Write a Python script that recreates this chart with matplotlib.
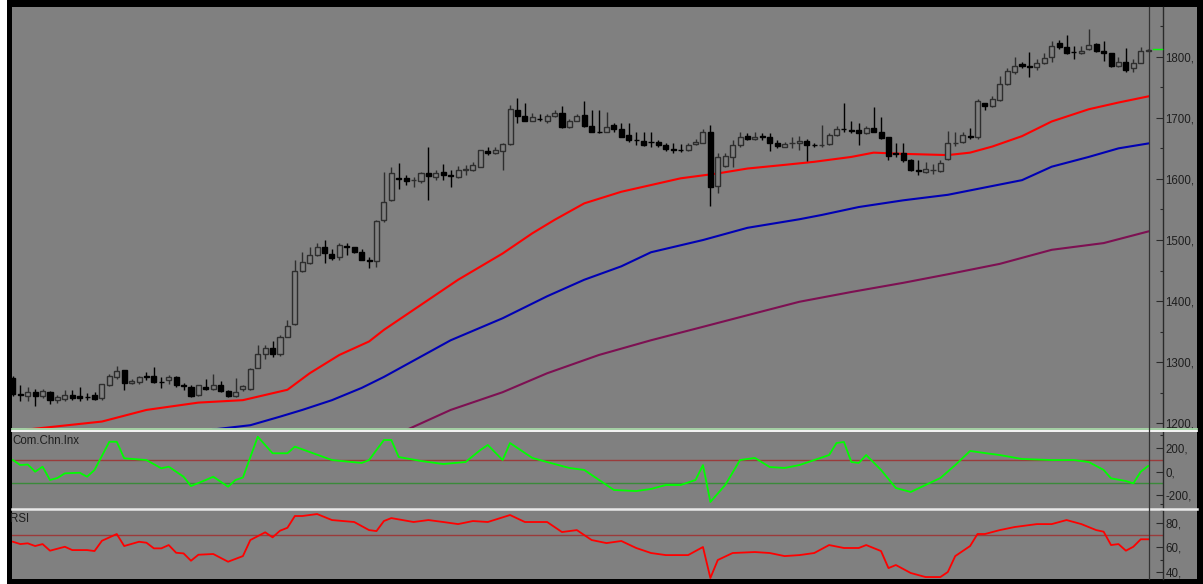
import numpy as np
import matplotlib
matplotlib.use("Agg")
import matplotlib.pyplot as plt
from matplotlib.patches import Rectangle

# ---------------- data ----------------
opens = [1274,1248,1244,1251,1245,1252,1238,1240,1247,1244,1243.5,1246,1241,1262,1276,1287,1266,1267,1277,1278,
         1268.5,1271,1276,1262,1260,1246,1260,1257,1262,1253,1245,1256,1256,1291,1313,1324,1313,1342,1363,1450,
         1462,1476,1488,1477,1473,1489.5,1488,1481,1467.5,1466,1532,1565,1601,1602,1598,1597,1610,1603,1611,1606,
         1603,1615,1615,1620,1646,1642,1646,1657,1713,1703,1695,1698.5,1695,1703,1708,1685.5,1695,1704.5,1686.5,1677.5,
         1677,1688,1681,1672,1664,1662.5,1661,1661,1655.5,1648.5,1647.5,1647,1657,1659,1676,1588,1621,1636.5,1655.5,1670,
         1666,1669.5,1669,1659,1653,1658,1658,1662.5,1656,1655.5,1657,1672,1681.5,1679.5,1680,1674.5,1683,1677,1668,1642,
         1642,1631,1614,1612,1614.5,1613.5,1632,1658,1661,1670,1668,1724,1719,1729,1755,1775.5,1788,1784,1782.5,1790,
         1799,1822,1815.5,1808,1805.5,1812,1821,1810,1805.5,1785,1792,1781,1790,1810]
highs = [1277,1262,1259,1257,1257,1253,1246,1254,1254,1260,1249,1251,1265,1280,1294,1288,1272,1278,1284,1293,
         1276,1279,1278,1266,1263,1263,1272,1281,1270,1255,1275,1263,1290,1328,1328,1334,1344,1369,1467,1481,
         1489,1495,1500,1486,1495,1495,1489,1486,1473,1533,1612,1619,1626,1606,1603,1612,1653,1615,1624,1615,
         1621,1623,1628,1648,1653,1653,1658,1721,1733,1724,1708,1706,1707,1713,1719,1697.5,1706,1728,1712,1712,
         1710,1691,1691,1691,1677,1676,1676,1664,1659,1659,1657,1658,1666,1681,1688,1643,1643,1663,1676,1675,
         1677,1675,1675,1664,1661,1669,1670,1665,1659,1688,1675,1687,1724,1694,1691,1687,1717,1702,1668,1658,
         1658,1632,1631,1628,1624,1631,1679,1676,1676,1683,1730,1725,1735,1768,1781,1800,1792,1808,1796,1806,
         1826,1827,1836,1817.5,1817.5,1845,1822,1825,1806.5,1800,1814,1796,1815.5,1812]
lows = [1244,1236,1236,1229,1242,1231,1233,1237,1238,1237,1238,1238,1239,1261,1272,1255,1264,1265,1271,1266,
        1258,1265,1260,1255,1243,1244,1255,1254,1251,1243,1243,1253,1255,1290,1306,1309,1310,1341,1361,1448,
        1461,1474,1462,1467,1467,1476,1478,1467,1455,1456,1530,1564,1583,1590,1586,1594,1565,1598,1598,1587,
        1602,1606,1613,1619,1639,1640,1615,1655,1691,1694,1694,1694,1691,1702,1684,1684,1694,1685.5,1677,1675,
        1676,1677,1668,1661,1655.5,1654,1653,1653,1646,1643,1644.5,1646,1655.5,1658,1555,1577.5,1619,1620,1652,1664,
        1664,1664,1645,1650,1652,1650,1647,1630,1652,1652,1655.5,1670,1677,1675,1655.5,1673.5,1676,1665,1631,1636,
        1628,1613.5,1606,1610,1608,1612,1631,1654,1658,1666,1666,1712,1717,1728,1754,1772,1781,1766,1779,1788,
        1792,1812,1804.5,1796,1804.5,1811,1808,1793.5,1783.5,1783.5,1775.5,1775.5,1789,1810]
closes = [1248,1246,1252,1245,1253,1238,1243,1247,1241,1241,1243,1240,1264,1278,1286,1266,1269,1276,1276,1267,
          1268,1276,1262,1261.5,1245,1262,1257,1262,1253,1245,1251,1261,1289,1313,1324,1313,1342,1360,1450,1464,
          1476,1489,1478,1470,1492,1489,1481,1467.5,1466,1531,1563,1610,1600,1597,1598.5,1609,1604,1610,1607,1604,
          1615,1615.5,1623,1647,1642,1647,1657,1714,1703,1695,1702,1698,1703,1708,1685.5,1695,1703,1686.5,1677.5,1677,
          1685.5,1681,1669,1664,1663.5,1655.5,1660.5,1655.5,1648.5,1648,1647,1655.5,1661,1676,1587,1636,1637.5,1655.5,1668,1666,
          1669,1669,1659,1654,1657,1658.5,1662.5,1655.5,1655.5,1656,1672,1681,1681,1679,1675.5,1683,1677,1666.5,1637.5,1641.5,
          1631,1614.5,1613.5,1615.5,1615,1626.5,1658,1658.5,1672,1668,1728,1719,1730,1755,1777,1784,1784,1783.5,1790,1797.5,
          1817.5,1815.5,1806.5,1807.5,1810,1819,1810,1805.5,1785,1792,1778.5,1790,1808.5,1811.5]

# moving averages: (bar index, price)
ma_red_idx = [2, 12, 18, 25, 31, 37, 40, 44, 48, 50, 60, 66, 70, 73, 77, 82, 86, 90, 95, 99, 104, 108, 113, 116, 120, 126, 129, 132, 136, 140, 145, 149, 153]
ma_red_val = [1190, 1203, 1222, 1234, 1238, 1255, 1282, 1312, 1334, 1353, 1435, 1478, 1511, 1533, 1560, 1579, 1590, 1601, 1609, 1617, 1623, 1628, 1636, 1643, 1641, 1639, 1643, 1653, 1670, 1694, 1714, 1725, 1735]
ma_blue_idx = [27, 32, 36, 39, 43, 47, 50, 59, 66, 72, 77, 82, 86, 93, 99, 106, 109, 114, 120, 126, 136, 140, 145, 149, 153]
ma_blue_val = [1190, 1197, 1211, 1222, 1238, 1258, 1276, 1336, 1372, 1408, 1435, 1457, 1480, 1500, 1520, 1534, 1541, 1554, 1565, 1574, 1598, 1620, 1636, 1650, 1658]
ma_purple_idx = [53, 59, 66, 72, 79, 86, 93, 99, 106, 113, 120, 126, 133, 140, 147, 153]
ma_purple_val = [1189, 1222, 1251, 1282, 1312, 1336, 1358, 1377, 1399, 1415, 1430, 1444, 1461, 1484, 1495, 1514]

# Commodity Channel Index
cci_idx = [0,1,2,3,4,5,6,7,9,10,11,13,14,15,18,20,21,23,24,26,27,29,30,31,33,35,37,38,40,43,47,48,50,51,52,55,58,61,63,64,
           66,67,70,72,75,77,79,81,84,86,88,90,92,93,94,96,98,100,102,104,106,108,110,111,112,113,114,115,117,119,
           121,123,125,127,129,131,133,136,140,143,145,147,148,150,151,152,153]
cci_val = [100,57,62,0,43,-71,-54,-14,-9,-43,15,257,257,115,100,29,43,-43,-123,-71,-43,-129,-71,-50,300,158,158,215,169,100,75,100,272,272,126,92,66,83,186,229,
           100,246,118,83,32,15,-71,-157,-166,-148,-114,-114,-71,57,-260,-114,100,118,40,32,57,100,143,246,255,83,75,143,15,-140,
           -174,-114,-54,57,178,160,143,109,100,100,83,15,-57,-80,-100,0,49]

# Relative Strength Index
rsi_idx = [0,1,2,3,4,5,7,8,10,11,12,14,15,17,18,19,20,21,22,23,24,25,27,29,31,32,34,35,36,37,38,39,40,41,43,46,48,49,50,51,
           54,56,58,60,62,64,67,69,72,74,76,78,80,82,84,86,88,91,93,94,95,97,100,102,104,106,108,110,112,114,
           115,117,118,119,121,123,125,126,127,129,130,131,133,135,138,140,142,144,146,147,148,149,150,151,152,153]
rsi_val = [64.5,62.6,63.2,61,62.6,57.2,60.4,57.7,57.7,56.9,65.3,70.8,61,64.5,63.7,59.1,59.1,61.8,55.5,55,49,53.9,54.5,48.2,52.8,65.9,72.2,68.1,73.5,75.9,85.5,85.5,86.3,87.1,82.2,80.6,74,73.2,81.4,83.8,
           80.6,82.2,80.6,78.9,81.4,80.6,86.3,80.6,80.6,72.4,74,65.9,63.4,65.1,59.4,55.3,53.6,53.6,60.2,34.9,49.6,55.3,56.1,55.3,52.8,53.6,55.3,61.8,59.4,59.4,
           61.8,56.9,43,45.5,39,35.7,35.7,39.8,52.8,61,70.8,70.8,74,76.5,78.9,78.9,82.2,78.9,74,72.7,61.8,62.6,57.2,60.4,66.5,66.5]

price_ticks = [1200, 1300, 1400, 1500, 1600, 1700, 1800]
cci_ticks = [-200, 0, 200]
rsi_ticks = [40, 60, 80]
cci_levels = [100, -100]
rsi_level = 70

# ---------------- layout ----------------
W, H = 1203, 584
BG = "#808080"
fig = plt.figure(figsize=(W / 100, H / 100), dpi=100)
fig.patch.set_facecolor("white")

def fx(px):
    return px / W

def fy(py):
    return 1 - py / H

# black frame and grey interior
fig.patches.append(Rectangle((fx(7), 0), 1 - fx(7), fy(0) - 0, transform=fig.transFigure,
                             facecolor="black", edgecolor="none", zorder=-10))
fig.patches.append(Rectangle((fx(12), fy(579)), fx(1197) - fx(12), fy(7) - fy(579), transform=fig.transFigure,
                             facecolor=BG, edgecolor="none", zorder=-9))

XL, XR = 12, 1162.7
X0, XSTEP = 12.9, 7.42
xlim = ((XL - X0) / XSTEP, (XR - X0) / XSTEP)

def make_ax(top, bottom):
    ax = fig.add_axes([fx(XL), fy(bottom), fx(XR) - fx(XL), (bottom - top) / H])
    ax.set_facecolor("none")
    for s in ["top", "left", "bottom"]:
        ax.spines[s].set_visible(False)
    ax.spines["right"].set_color("#2a2a2a")
    ax.spines["right"].set_linewidth(1.0)
    ax.yaxis.tick_right()
    ax.tick_params(axis="y", which="major", direction="in", length=5, width=0.8, color="#2a2a2a",
                   pad=2, labelsize=8.3, labelcolor="#1e1e1e")
    ax.tick_params(axis="y", which="minor", direction="in", length=2.5, width=0.8, color="#2a2a2a")
    ax.set_xticks([])
    ax.set_xlim(*xlim)
    return ax

ax_main = make_ax(7, 429)
ax_cci = make_ax(431.5, 508)
ax_rsi = make_ax(510, 579)

ax_main.set_ylim(1190.8, 1881.3)
ax_cci.set_ylim(-311.5, 344.9)
ax_rsi.set_ylim(34.1, 90.4)

def setticks(ax, ticks, minor):
    ax.set_yticks(ticks)
    ax.set_yticklabels([f"{t}," for t in ticks], family="Liberation Sans")
    ax.set_yticks(minor, minor=True)

setticks(ax_main, price_ticks, [1250, 1350, 1450, 1550, 1650, 1750, 1850])
setticks(ax_cci, cci_ticks, [315, -277])
setticks(ax_rsi, rsi_ticks, [90, 50])

# ---------------- candles ----------------
o = np.array(opens); h = np.array(highs); l = np.array(lows); c = np.array(closes)
idx = np.arange(len(o))
up = c >= o
UPC = "#2e2e2e"
ax_main.vlines(idx[up], l[up], h[up], color=UPC, lw=1.0, zorder=3)
ax_main.vlines(idx[~up], l[~up], h[~up], color="black", lw=1.0, zorder=3)
bw = 0.68
ax_main.bar(idx[up], (c - o)[up], bottom=o[up], width=bw, facecolor=BG, edgecolor=UPC, linewidth=1.0, zorder=4)
ax_main.bar(idx[~up], (c - o)[~up], bottom=o[~up], width=bw, facecolor="black", edgecolor="black", linewidth=1.0, zorder=4)

# moving averages
ax_main.plot(ma_purple_idx, ma_purple_val, color="#7d1052", lw=1.5, zorder=2)
ax_main.plot(ma_blue_idx, ma_blue_val, color="#0000b4", lw=1.5, zorder=2)
ax_main.plot(ma_red_idx, ma_red_val, color="#ff0000", lw=1.5, zorder=2)

# bid line
last = closes[-1]
ax_main.plot([len(o) - 0.4, len(o) + 0.8], [last + 1.5, last + 1.5], color="#00ff00", lw=1.0, zorder=5, clip_on=False)

# CCI
for lv, col in zip(cci_levels, ["#9a3b3b", "#3a8a3a"]):
    ax_cci.axhline(lv, color=col, lw=1.0, zorder=1)
ax_cci.plot(cci_idx, cci_val, color="#00ff00", lw=1.3, zorder=3)
ax_cci.text(0.0, 0.96, "Com.Chn.Inx", transform=ax_cci.transAxes, ha="left", va="top",
            fontsize=8.3, color="#1e1e1e", family="Liberation Sans")

# RSI
ax_rsi.axhline(rsi_level, color="#9a3b3b", lw=1.0, zorder=1)
ax_rsi.plot(rsi_idx, rsi_val, color="#ff0000", lw=1.3, zorder=3)
ax_rsi.text(-0.002, 0.96, "RSI", transform=ax_rsi.transAxes, ha="left", va="top",
            fontsize=8.3, color="#1e1e1e", family="Liberation Sans")

# separators
fig.add_artist(plt.Line2D([fx(12), fx(1197)], [fy(429.2), fy(429.2)], color="#a8d8a8", lw=1.3))
fig.add_artist(plt.Line2D([fx(12), fx(1197)], [fy(430.8), fy(430.8)], color="#ffffff", lw=1.3))
fig.add_artist(plt.Line2D([fx(12), fx(1197)], [fy(509), fy(509)], color="#e8e8e8", lw=1.8))

# vertical separator line through all panels
vx = fx(1148.7)
fig.add_artist(plt.Line2D([vx, vx], [fy(579), fy(7)], color="#333333", lw=0.9))

fig.savefig("out.png", dpi=100, facecolor=fig.get_facecolor())
